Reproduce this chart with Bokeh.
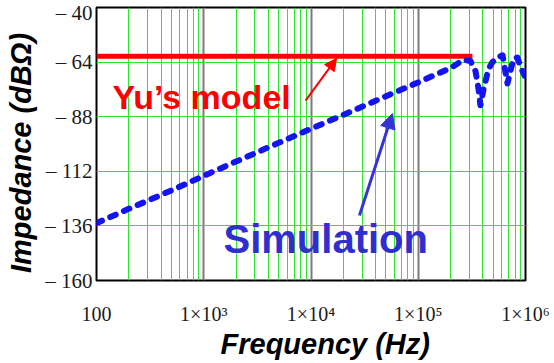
from bokeh.plotting import figure
from bokeh.models import Range1d, FixedTicker, Grid, Label, Arrow, NormalHead, Title
from bokeh.embed import file_html
from bokeh.resources import INLINE

# ---- data ----
x_ticks = [1e2, 1e3, 1e4, 1e5, 1e6]
x_tick_labels = ["100", "1×10³", "1×10⁴", "1×10⁵", "1×10⁶"]
y_ticks = [-160, -136, -112, -88, -64, -40]
y_tick_labels = ["– 160", "– 136", "– 112", "– 88", "– 64", "– 40"]

model_f = [100, 3.2e5]
model_z = [-61.4, -61.4]

sim_f = [100, 200, 500, 1e3, 2e3, 5e3, 1e4, 2e4, 5e4, 1e5, 2e5, 2.64e5,
         3.07e5, 3.42e5, 3.65e5, 3.80e5, 4.06e5, 4.52e5, 4.92e5, 5.48e5,
         6.11e5, 6.37e5, 6.79e5, 7.24e5, 7.73e5, 8.42e5, 8.98e5, 9.8e5]
sim_z = [-134.8, -128.5, -120.4, -114.0, -107.7, -99.5, -93.3, -87.2, -79.0,
         -72.9, -66.6, -63.0, -63.5, -68.0, -76.0, -83.0, -76.0, -67.0, -64.0,
         -62.0, -61.0, -66.0, -73.4, -68.0, -62.4, -62.0, -66.0, -70.0]

minor_ticks = [m * 10 ** k for k in range(2, 6) for m in range(2, 10)]

p = figure(width=554, height=363, x_axis_type="log",
           x_range=Range1d(1e2, 1e6), y_range=Range1d(-160, -40),
           output_backend="svg", toolbar_location=None,
           min_border_left=96, min_border_right=29,
           min_border_top=7, min_border_bottom=83)

p.background_fill_color = "white"
p.border_fill_color = "white"
p.outline_line_color = "black"
p.outline_line_width = 2

# grids
p.xgrid.ticker = FixedTicker(ticks=x_ticks)
p.xgrid.grid_line_color = "#7a7a7a"
p.xgrid.grid_line_width = 2
p.add_layout(Grid(dimension=0, ticker=FixedTicker(ticks=minor_ticks),
                  grid_line_color="#2ee62e", grid_line_width=1))
p.ygrid.ticker = FixedTicker(ticks=y_ticks)
p.ygrid.grid_line_color = "#2ee62e"
p.ygrid.grid_line_width = 1

# axes
p.xaxis.ticker = FixedTicker(ticks=x_ticks)
p.xaxis.major_label_overrides = {float(t): l for t, l in zip(x_ticks, x_tick_labels)}
p.yaxis.ticker = FixedTicker(ticks=y_ticks)
p.yaxis.major_label_overrides = {t: l for t, l in zip(y_ticks, y_tick_labels)}
for ax in (p.xaxis, p.yaxis):
    ax.axis_line_color = None
    ax.major_tick_line_color = None
    ax.minor_tick_line_color = None
    ax.major_tick_out = 0
    ax.major_label_text_font = "Liberation Serif"
    ax.major_label_text_color = "#1a1a1a"
p.xaxis.major_label_text_font_size = "20px"
p.yaxis.major_label_text_font_size = "21px"
p.xaxis.major_label_standoff = 22
p.yaxis.major_label_standoff = 4

# axis titles
p.add_layout(Title(text="Frequency (Hz)", align="left", offset=124, standoff=0,
                   vertical_align="top", text_color="black",
                   text_font="Liberation Sans", text_font_style="bold italic",
                   text_font_size="29px"), "below")
p.add_layout(Title(text="Impedance (dBΩ)", align="left", offset=7.5, standoff=5.5,
                   vertical_align="top", text_color="black",
                   text_font="Liberation Sans", text_font_style="bold italic",
                   text_font_size="29px"), "left")

# series
p.line(model_f, model_z, line_color="#ff0000", line_width=5)
p.line(sim_f, sim_z, line_color="#1414f0", line_width=6,
       line_dash="6 9", line_cap="round", line_join="round")

# annotations
p.add_layout(Label(x=141, y=-87.8, text="Yu’s model", text_color="#ff0000",
                   text_font="Liberation Sans", text_font_style="bold",
                   text_font_size="34px", text_baseline="bottom"))
p.add_layout(Label(x=1528, y=-151.3, text="Simulation", text_color="#2f2fd0",
                   text_font="Liberation Sans", text_font_style="bold",
                   text_font_size="40px", text_baseline="bottom"))
p.add_layout(Arrow(x_start=8.9e3, y_start=-80.9, x_end=1.73e4, y_end=-62.4,
                   line_color="#ff0000", line_width=2,
                   end=NormalHead(size=12, fill_color="#ff0000", line_color="#ff0000")))
p.add_layout(Arrow(x_start=2.83e4, y_start=-131.4, x_end=5.75e4, y_end=-86.6,
                   line_color="#3535d5", line_width=3,
                   end=NormalHead(size=15, fill_color="#3535d5", line_color="#3535d5")))

open("out.html", "w").write(file_html(p, INLINE))
